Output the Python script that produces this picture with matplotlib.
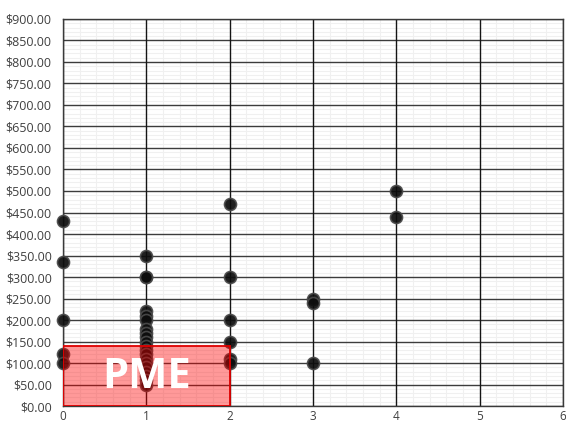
import matplotlib
matplotlib.use("Agg")
import matplotlib.pyplot as plt
from matplotlib.patches import Rectangle
from matplotlib.ticker import MultipleLocator, FuncFormatter

# Data
x0 = [0, 0, 0, 0, 0]
y0 = [430, 335, 200, 120, 100]
x1 = [1] * 20
y1 = [350, 300, 300, 220, 210, 200, 180, 170, 160, 150, 140, 130, 120, 110, 100, 90, 80, 70, 60, 50]
x2 = [2, 2, 2, 2, 2, 2]
y2 = [470, 300, 200, 150, 110, 100]
x3 = [3, 3, 3]
y3 = [250, 240, 100]
x4 = [4, 4]
y4 = [500, 440]

xs = x0 + x1 + x2 + x3 + x4
ys = y0 + y1 + y2 + y3 + y4

pme_x = [0, 2]
pme_top = 140
pme_label = "PME"

fig = plt.figure(figsize=(5.66, 4.25), dpi=100)
ax = fig.add_axes([0.111, 0.0447, 0.884, 0.9106])

ax.set_xlim(0, 6)
ax.set_ylim(0, 900)
ax.xaxis.set_major_locator(MultipleLocator(1))
ax.xaxis.set_minor_locator(MultipleLocator(0.2))
ax.yaxis.set_major_locator(MultipleLocator(50))
ax.yaxis.set_minor_locator(MultipleLocator(10))
ax.yaxis.set_major_formatter(FuncFormatter(lambda v, p: f"${v:,.2f}"))

ax.grid(which="minor", color="#f0f0f0", linewidth=0.8)
ax.set_axisbelow(True)

for yt in ax.get_yticks():
    if 0 <= yt <= 900:
        ax.axhline(yt, color="#3c3c3c", linewidth=1.0, zorder=1)
for xt in ax.get_xticks():
    if 0 <= xt <= 6:
        ax.axvline(xt, color="#151515", linewidth=1.0, zorder=1.1)

for s in ax.spines.values():
    s.set_color("#3a3a3a")
    s.set_linewidth(1.0)

ax.tick_params(which="both", length=0)
ax.tick_params(axis="y", labelsize=9, colors="#404040", pad=8)
ax.tick_params(axis="x", labelsize=8.5, colors="#404040", pad=3)
for lab in ax.get_xticklabels() + ax.get_yticklabels():
    lab.set_fontfamily("Open Sans")

ax.scatter(xs, ys, s=75, facecolor="#0d0d0d", edgecolor="#4a4a4a", linewidth=1.2, alpha=0.92,
           zorder=3, clip_on=False)

rect = Rectangle((pme_x[0], 0), pme_x[1] - pme_x[0], pme_top, facecolor=(1, 0, 0, 0.4),
                 edgecolor="#e00000", linewidth=1.3, zorder=4)
ax.add_patch(rect)
ax.text((pme_x[0] + pme_x[1]) / 2, pme_top / 2 - 3, pme_label, color="white", fontsize=30,
        fontweight="bold", fontfamily="Open Sans", ha="center", va="center", zorder=5)

fig.savefig("out.png", dpi=100)
